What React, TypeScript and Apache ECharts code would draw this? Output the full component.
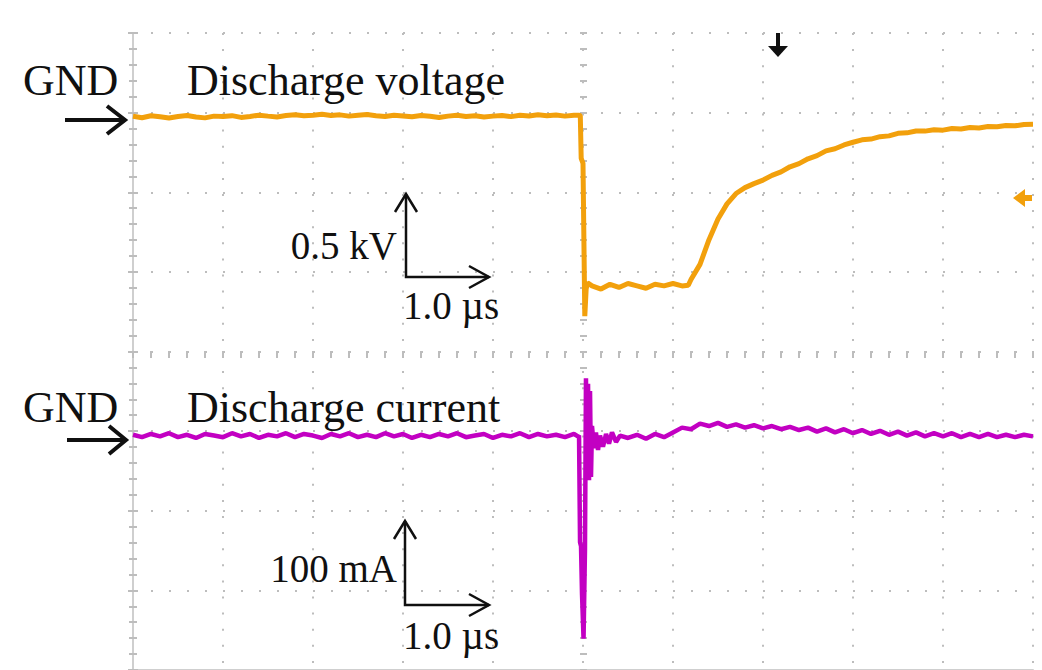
import React, { useEffect, useRef } from "react";
import * as echarts from "echarts";

// ---- Data (time in µs from left edge of screen; GND = 0) ----
const voltageTimes = [
  0, 0.1, 0.2, 0.3, 0.4, 0.5, 0.6, 0.7, 0.8, 0.9,
  1.0, 1.1, 1.2, 1.3, 1.4, 1.5, 1.6, 1.7, 1.8, 1.9,
  2.0, 2.1, 2.2, 2.3, 2.4, 2.5, 2.6, 2.7, 2.8, 2.9,
  3.0, 3.1, 3.2, 3.3, 3.4, 3.5, 3.6, 3.7, 3.8, 3.9,
  4.0, 4.1, 4.2, 4.3, 4.4, 4.5, 4.6, 4.7, 4.8, 4.9,
  4.96, 4.97, 4.98, 5.0, 5.02, 5.035, 5.05,
  5.1, 5.2, 5.3, 5.4, 5.5, 5.6, 5.7, 5.8, 5.9, 6.0, 6.1,
  6.17,
  6.2, 6.3, 6.4, 6.5, 6.6, 6.7, 6.8, 6.9, 7.0, 7.1,
  7.2, 7.3, 7.4, 7.5, 7.6, 7.7, 7.8, 7.9, 8.0, 8.1,
  8.2, 8.3, 8.4, 8.5, 8.6, 8.7, 8.8, 8.9, 9.0, 9.1,
  9.2, 9.3, 9.4, 9.5, 9.6, 9.7, 9.8, 9.9, 10.0,
];
const voltageKV = [
  0.005, -0.004, 0.008, 0.002, -0.006, 0.004, 0.010, 0.000, -0.005, 0.006,
  0.003, 0.009, -0.002, 0.004, 0.012, 0.006, 0.001, 0.010, 0.015, 0.008,
  0.012, 0.018, 0.010, 0.014, 0.006, 0.011, 0.016, 0.009, 0.004, 0.012,
  0.007, 0.002, 0.010, 0.005, -0.003, 0.006, 0.011, 0.004, 0.008, 0.001,
  0.006, 0.010, 0.003, 0.012, 0.007, 0.014, 0.009, 0.013, 0.006, 0.011,
  0.012, 0.008, -0.26, -0.29, -1.25, -1.08, -1.04,
  -1.06, -1.08, -1.05, -1.07, -1.045, -1.06, -1.075, -1.05, -1.06, -1.045, -1.06,
  -1.056,
  -1.02, -0.925, -0.77, -0.64, -0.545, -0.48, -0.443, -0.418, -0.396, -0.366,
  -0.344, -0.312, -0.292, -0.262, -0.242, -0.212, -0.199, -0.175, -0.158, -0.143,
  -0.138, -0.123, -0.118, -0.102, -0.099, -0.087, -0.088, -0.079, -0.082, -0.072,
  -0.075, -0.065, -0.068, -0.059, -0.061, -0.053, -0.055, -0.046, -0.045,
];

const currentTimes = [
  0, 0.1, 0.2, 0.3, 0.4, 0.5, 0.6, 0.7, 0.8, 0.9,
  1.0, 1.1, 1.2, 1.3, 1.4, 1.5, 1.6, 1.7, 1.8, 1.9,
  2.0, 2.1, 2.2, 2.3, 2.4, 2.5, 2.6, 2.7, 2.8, 2.9,
  3.0, 3.1, 3.2, 3.3, 3.4, 3.5, 3.6, 3.7, 3.8, 3.9,
  4.0, 4.1, 4.2, 4.3, 4.4, 4.5, 4.6, 4.7, 4.8, 4.9,
  4.944, 4.956, 4.967, 4.978, 4.989, 5.006, 5.022, 5.033, 5.044, 5.056,
  5.067, 5.078, 5.089, 5.1, 5.122, 5.144, 5.167, 5.189, 5.222, 5.256,
  5.289, 5.322, 5.367, 5.411,
  5.5, 5.6, 5.7, 5.8, 5.9, 6.0, 6.1, 6.2, 6.3, 6.4,
  6.5, 6.6, 6.7, 6.8, 6.9, 7.0, 7.1, 7.2, 7.3, 7.4,
  7.5, 7.6, 7.7, 7.8, 7.9, 8.0, 8.1, 8.2, 8.3, 8.4,
  8.5, 8.6, 8.7, 8.8, 8.9, 9.0, 9.1, 9.2, 9.3, 9.4,
  9.5, 9.6, 9.7, 9.8, 9.9, 10.0,
];
const currentMA = [
  1, -2, 2, -1, 3, -2, 1, -3, 2, 0,
  -2, 3, -1, 2, -3, 1, -1, 3, -2, 2,
  0, -3, 2, -1, 3, -2, 1, -2, 3, -1,
  2, -3, 1, -2, 2, -1, 3, -2, 0, 2,
  -3, 1, -1, 3, -2, 2, -1, 1, -2, 2,
  -1, 0, -134, -139, -199, -255, -143, 72, -47, 65,
  -56, 56, -52, 12, -16, 4, -18, 0, -14, 2,
  -10, 4, -8, 0,
  -3, 1, -4, 2, -2, 4, 10, 8, 15, 12,
  16, 11, 14, 10, 13, 9, 12, 8, 11, 7,
  10, 5, 9, 4, 8, 3, 7, 2, 6, 1,
  5, 0, 4, -1, 3, -1, 3, -2, 2, -2,
  2, -2, 1, -2, 1, -1,
];

// Screen scale: 10 horizontal divisions of 1.0 µs, 8 vertical divisions
const timeRange = [0, 10];
const divisionRange = [0, 8];
const voltageRangeKV = [-3.472, 0.528]; // 0.5 kV / div
const currentRangeMA = [-294.4, 505.6]; // 100 mA / div

const ORANGE = "#F2A00C";
const MAGENTA = "#C200C2";
const GRID_GRAY = "#bdbdbd";
const BORDER_GRAY = "#cfcfcf";
const SERIF = "'Liberation Serif', 'Times New Roman', serif";

function tickAxis(extra: any) {
  return {
    type: "value",
    axisLabel: { show: false },
    axisLine: { show: false },
    splitLine: { show: false },
    axisTick: { show: true, inside: true, length: 4, lineStyle: { color: GRID_GRAY, width: 2 } },
    minorTick: { show: true, splitNumber: 5, length: 4, lineStyle: { color: GRID_GRAY, width: 2 } },
    ...extra,
  };
}

export default function App() {
  const ref = useRef<HTMLDivElement>(null);
  useEffect(() => {
    if (!ref.current) return;
    const chart = echarts.init(ref.current, undefined, { renderer: "svg" });
    const vData = voltageTimes.map((t, i) => [t, voltageKV[i]]);
    const cData = currentTimes.map((t, i) => [t, currentMA[i]]);

    const txt = (text: string, x: number, y: number, size: number, align = "left") => ({
      type: "text",
      x,
      y,
      z: 10,
      style: {
        text,
        fill: "#101010",
        fontFamily: SERIF,
        fontSize: size,
        align,
        verticalAlign: "middle",
      },
    });
    const seg = (pts: number[][], w = 2.5, color = "#101010") => ({
      type: "polyline",
      z: 10,
      shape: { points: pts },
      style: { stroke: color, lineWidth: w, fill: null, lineJoin: "miter" },
    });

    chart.setOption({
      animation: false,
      backgroundColor: "#ffffff",
      grid: { left: 133, top: 33, width: 900, height: 644 },
      xAxis: [
        {
          type: "value",
          min: timeRange[0],
          max: timeRange[1],
          interval: 1,
          position: "top",
          axisLabel: { show: false },
          axisLine: { show: true, lineStyle: { color: BORDER_GRAY, width: 2 } },
          axisTick: { show: true, inside: true, length: 5, lineStyle: { color: GRID_GRAY, width: 2 } },
          minorTick: { show: true, splitNumber: 5, length: 4, lineStyle: { color: GRID_GRAY, width: 2 } },
          splitLine: { show: true, lineStyle: { color: GRID_GRAY, width: 2, type: [2, 14.1] } },
        },
        tickAxis({ min: timeRange[0], max: timeRange[1], interval: 1, position: "bottom", offset: -322 }),
        tickAxis({ min: timeRange[0], max: timeRange[1], interval: 1, position: "bottom", offset: -322, axisTick: { show: true, inside: false, length: 3, lineStyle: { color: GRID_GRAY, width: 2 } }, minorTick: { show: true, splitNumber: 5, length: 3, lineStyle: { color: GRID_GRAY, width: 2 } } }),
      ],
      yAxis: [
        {
          type: "value",
          min: divisionRange[0],
          max: divisionRange[1],
          interval: 1,
          position: "left",
          axisLabel: { show: false },
          axisLine: { show: true, lineStyle: { color: BORDER_GRAY, width: 2 } },
          axisTick: { show: true, inside: true, length: 5, lineStyle: { color: GRID_GRAY, width: 2 } },
          minorTick: { show: true, splitNumber: 5, length: 4, lineStyle: { color: GRID_GRAY, width: 2 } },
          splitLine: { show: true, lineStyle: { color: GRID_GRAY, width: 2, type: [2, 16] } },
        },
        {
          type: "value",
          min: divisionRange[0],
          max: divisionRange[1],
          interval: 1,
          position: "right",
          axisLabel: { show: false },
          axisLine: { show: true, lineStyle: { color: BORDER_GRAY, width: 2 } },
          axisTick: { show: true, inside: true, length: 5, lineStyle: { color: GRID_GRAY, width: 2 } },
          minorTick: { show: true, splitNumber: 5, length: 4, lineStyle: { color: GRID_GRAY, width: 2 } },
          splitLine: { show: false },
        },
        tickAxis({ min: divisionRange[0], max: divisionRange[1], interval: 1, position: "left", offset: -450 }),
        tickAxis({ min: divisionRange[0], max: divisionRange[1], interval: 1, position: "left", offset: -450, axisTick: { show: true, inside: false, length: 3, lineStyle: { color: GRID_GRAY, width: 2 } }, minorTick: { show: true, splitNumber: 5, length: 3, lineStyle: { color: GRID_GRAY, width: 2 } } }),
        { type: "value", show: false, min: voltageRangeKV[0], max: voltageRangeKV[1], splitLine: { show: false } },
        { type: "value", show: false, min: currentRangeMA[0], max: currentRangeMA[1], splitLine: { show: false } },
      ],
      series: [
        {
          name: "Discharge voltage",
          type: "line",
          xAxisIndex: 0,
          yAxisIndex: 4,
          data: vData,
          showSymbol: false,
          lineStyle: { color: ORANGE, width: 5 },
          z: 5,
        },
        {
          name: "Discharge current",
          type: "line",
          xAxisIndex: 0,
          yAxisIndex: 5,
          data: cData,
          showSymbol: false,
          lineStyle: { color: MAGENTA, width: 4.5 },
          z: 5,
        },
      ],
      graphic: [
        txt("GND", 23, 80, 44),
        txt("Discharge voltage", 187, 80, 44),
        seg([[65, 120], [123, 120]], 4),
        seg([[107, 106], [125, 120], [107, 134]], 4),
        txt("GND", 23, 407, 44),
        txt("Discharge current", 187, 407, 44),
        seg([[67, 440], [123, 440]], 4),
        seg([[109, 426], [126, 440], [109, 454]], 4),
        // voltage scale bar
        txt("0.5 kV", 397, 245, 39, "right"),
        seg([[406, 194], [406, 277], [489, 277]]),
        seg([[395, 212], [406, 194], [417, 212]]),
        seg([[469, 266], [489, 277], [469, 288]]),
        txt("1.0 µs", 403, 305, 39),
        // current scale bar
        txt("100 mA", 397, 568, 39, "right"),
        seg([[405, 521], [405, 605], [489, 605]]),
        seg([[394, 539], [405, 521], [416, 539]]),
        seg([[469, 594], [489, 605], [469, 616]]),
        txt("1.0 µs", 403, 635, 39),
        // trigger position marker
        { type: "rect", z: 10, shape: { x: 776, y: 33, width: 4, height: 14 }, style: { fill: "#101010" } },
        { type: "polygon", z: 10, shape: { points: [[768, 46], [788, 46], [778, 57]] }, style: { fill: "#101010" } },
        // trigger level marker
        {
          type: "polygon",
          z: 10,
          shape: { points: [[1013, 198], [1025, 189], [1025, 195], [1032, 195], [1032, 201], [1025, 201], [1025, 207]] },
          style: { fill: ORANGE },
        },
      ],
    });
    return () => chart.dispose();
  }, []);
  return (
    <div
      ref={ref}
      style={{ position: "absolute", left: 0, top: 0, width: 1042, height: 670, background: "#fff" }}
    />
  );
}
